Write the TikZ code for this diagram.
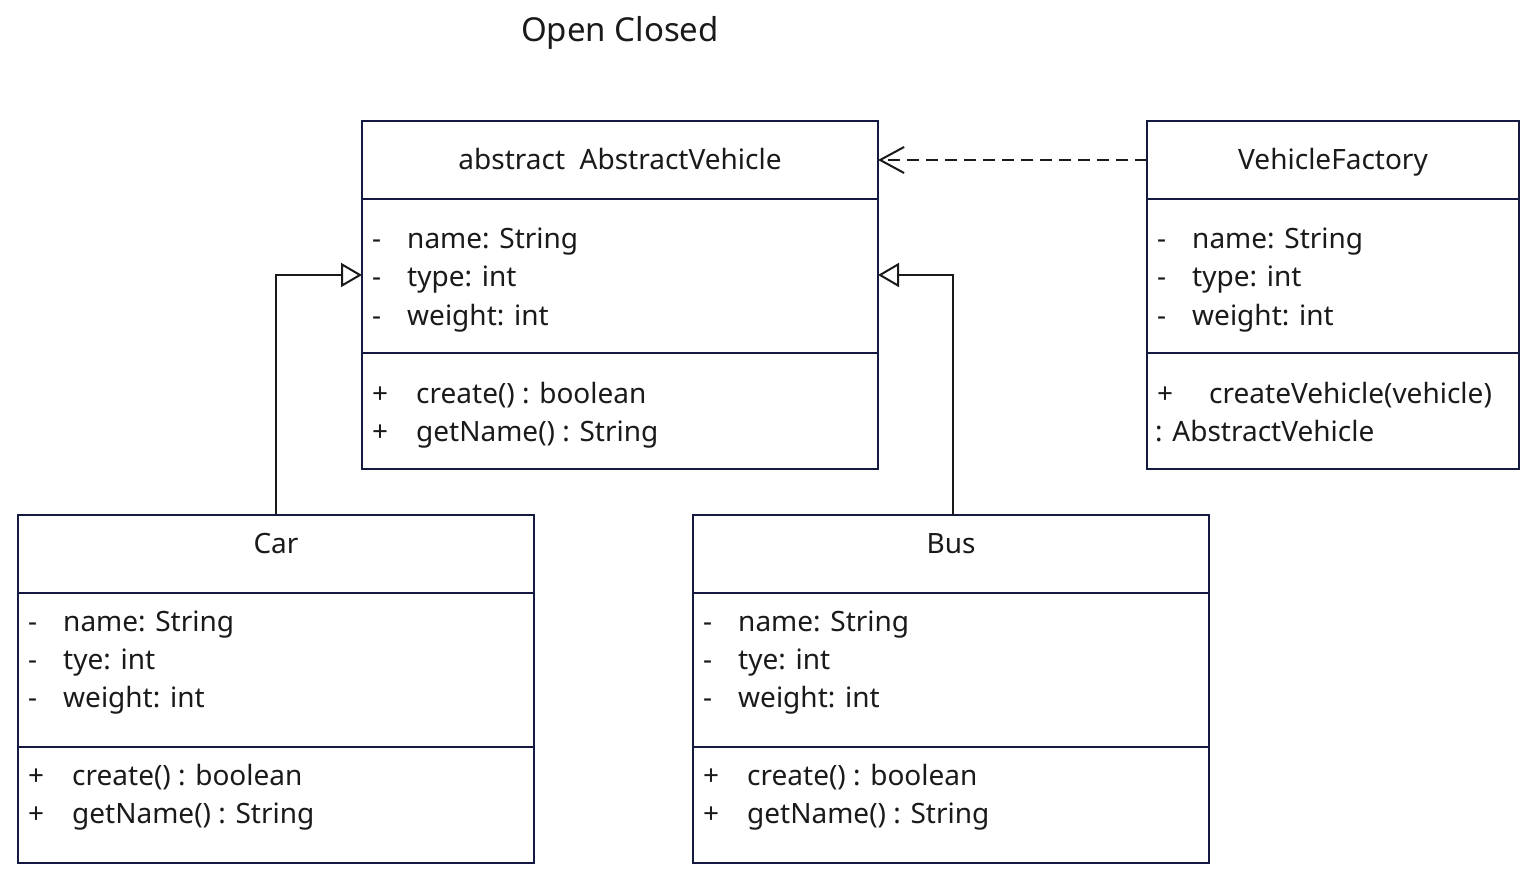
\documentclass[tikz,border=0pt]{standalone}
\usepackage{fontspec}
\setmainfont{Noto Sans}
\usetikzlibrary{arrows.meta}
\definecolor{boxc}{HTML}{141A40}
\definecolor{txt}{HTML}{1A1A1A}
\tikzset{
  cls/.style={draw=boxc, line width=2pt, fill=none, inner sep=0pt},
  dv/.style={draw=boxc, line width=2pt},
  t/.style={anchor=base west, inner sep=0pt, text=txt, font=\fontsize{28}{28}\selectfont},
  th/.style={anchor=base, inner sep=0pt, text=txt, font=\fontsize{28}{28}\selectfont},
  conn/.style={draw=txt, line width=2pt},
}
\begin{document}
\begin{tikzpicture}[x=1pt,y=-1pt]
\useasboundingbox (0,0) rectangle (1538,882);
% title
\node[th, font=\fontsize{33}{33}\selectfont] (title) at (620,42) {Open Closed};
% boxes
\node[cls, minimum width=516pt, minimum height=348pt] (av) at (620,295) {};
\node[cls, minimum width=372pt, minimum height=348pt] (vf) at (1333,295) {};
\node[cls, minimum width=516pt, minimum height=348pt] (car) at (276,689) {};
\node[cls, minimum width=516pt, minimum height=348pt] (bus) at (951,689) {};
% dividers
\draw[dv] (362,199) -- (878,199) (362,353) -- (878,353);
\draw[dv] (1147,199) -- (1519,199) (1147,353) -- (1519,353);
\draw[dv] (18,593) -- (534,593) (18,747) -- (534,747);
\draw[dv] (693,593) -- (1209,593) (693,747) -- (1209,747);
% AbstractVehicle
\node[th] (avh) at (620,170) {abstract\ \ AbstractVehicle};
\node[t] (ava1m) at (372,249) {-};
\node[t] (ava1) at (407,249) {name: String};
\node[t] (ava2m) at (372,287) {-};
\node[t] (ava2) at (407,287) {type: int};
\node[t] (ava3m) at (372,325) {-};
\node[t] (ava3) at (407,325) {weight: int};
\node[t] (avm1p) at (372,403) {+};
\node[t] (avm1) at (416,403) {create() : boolean};
\node[t] (avm2p) at (372,441) {+};
\node[t] (avm2) at (416,441) {getName() : String};
% VehicleFactory
\node[th] (vfh) at (1333,170) {VehicleFactory};
\node[t] (vfa1m) at (1157,249) {-};
\node[t] (vfa1) at (1192,249) {name: String};
\node[t] (vfa2m) at (1157,287) {-};
\node[t] (vfa2) at (1192,287) {type: int};
\node[t] (vfa3m) at (1157,325) {-};
\node[t] (vfa3) at (1192,325) {weight: int};
\node[t] (vfm1p) at (1157,403) {+};
\node[t] (vfm1) at (1209,403) {createVehicle(vehicle)};
\node[t] (vfm2) at (1155,441) {: AbstractVehicle};
% Car
\node[th] (carh) at (276,553) {Car};
\node[t] (cara1m) at (28,631) {-};
\node[t] (cara1) at (63,631) {name: String};
\node[t] (cara2m) at (28,669) {-};
\node[t] (cara2) at (63,669) {tye: int};
\node[t] (cara3m) at (28,707) {-};
\node[t] (cara3) at (63,707) {weight: int};
\node[t] (carm1p) at (28,785) {+};
\node[t] (carm1) at (72,785) {create() : boolean};
\node[t] (carm2p) at (28,823) {+};
\node[t] (carm2) at (72,823) {getName() : String};
% Bus
\node[th] (bush) at (951,553) {Bus};
\node[t] (busa1m) at (703,631) {-};
\node[t] (busa1) at (738,631) {name: String};
\node[t] (busa2m) at (703,669) {-};
\node[t] (busa2) at (738,669) {tye: int};
\node[t] (busa3m) at (703,707) {-};
\node[t] (busa3) at (738,707) {weight: int};
\node[t] (busm1p) at (703,785) {+};
\node[t] (busm1) at (747,785) {create() : boolean};
\node[t] (busm2p) at (703,823) {+};
\node[t] (busm2) at (747,823) {getName() : String};
% connectors
\coordinate (avL) at (362,275);
\coordinate (avR) at (878,275);
\coordinate (avD) at (878,160);
\coordinate (vfD) at (1147,160);
\coordinate (busN) at (953,515);
\draw[conn, -{Triangle[open, length=21pt, width=24pt]}] (car.north) |- (avL);
\draw[conn, -{Triangle[open, length=21pt, width=24pt]}] (busN) |- (avR);
\draw[conn, dash pattern=on 12pt off 7pt, -{Straight Barb[length=24pt, width=26pt]}] (vfD) -- (avD);
\end{tikzpicture}
\end{document}
